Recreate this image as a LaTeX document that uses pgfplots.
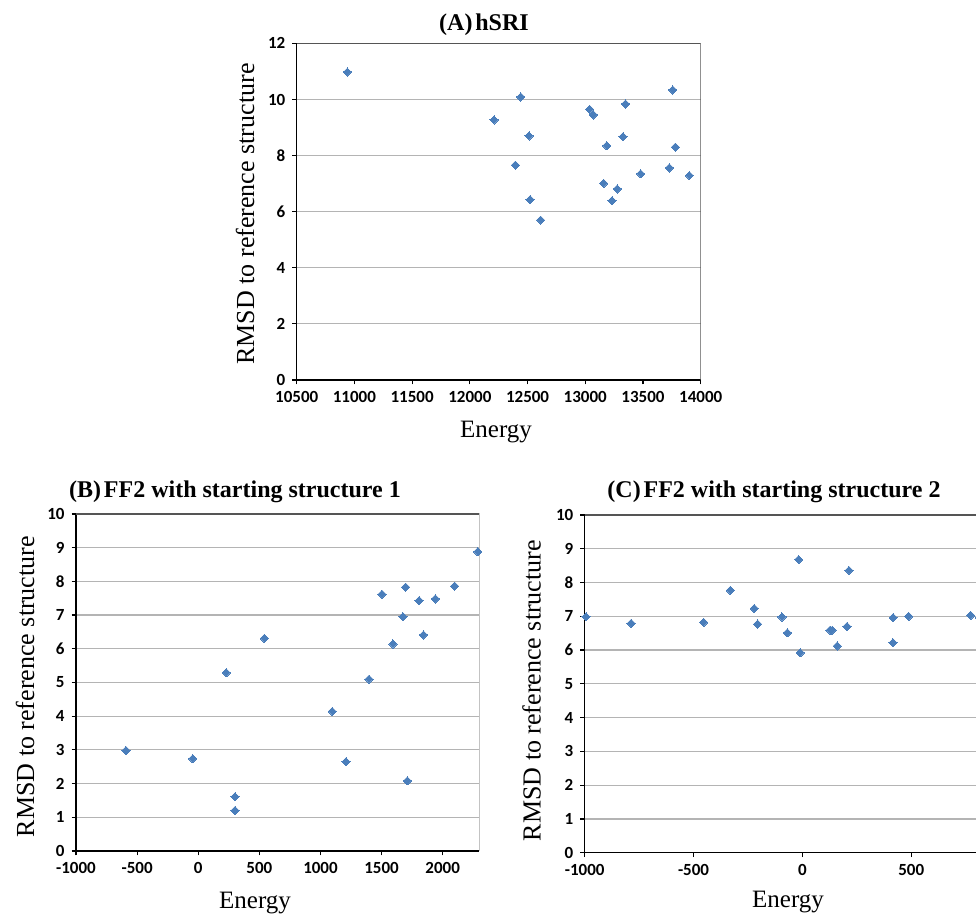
\documentclass[border=0pt]{standalone}
\usepackage{fontspec}
\setmainfont{Liberation Serif}
\newfontfamily\carlito{Carlito}
\usepackage{pgfplots}
\pgfplotsset{compat=1.18}
\definecolor{mk}{HTML}{4A7EBB}
\definecolor{gridc}{HTML}{B4B4B4}
\definecolor{boxc}{HTML}{555555}
\pgfplotsset{
 myax/.style={
  scale only axis,
  anchor=south west,
  axis lines*=left,
  axis line style={-, black, line width=0.7pt},
  every outer x axis line/.append style={-},
  every outer y axis line/.append style={-},
  ymajorgrids,
  grid style={gridc, line width=0.6pt},
  tick align=outside,
  major tick length=2.2pt,
  tick style={black, line width=0.6pt},
  ticklabel style={font=\carlito\bfseries\fontsize{8.5}{10}\selectfont},
  scaled x ticks=false,
  scaled y ticks=false,
  /pgf/number format/assume math mode=true,
  /pgf/number format/set thousands separator={},
 },
 mks/.style={only marks, mark=square*, mark size=1.45pt,
   mark options={rotate=45, fill=mk, draw=mk, line width=0pt}},
}
\begin{document}
\begin{tikzpicture}
\useasboundingbox (0,0) rectangle (488pt,457.5pt);
\clip (0,0) rectangle (488pt,457.5pt);
% ---------- (A)
\begin{axis}[myax, at={(148.35pt,267.5pt)}, width=202pt, height=168.3pt,
  xmin=10500, xmax=14000, ymin=0, ymax=12,
  xtick={10500,11000,11500,12000,12500,13000,13500,14000}, ytick={0,2,...,12}]
\addplot[mks] table {
x y
10939 10.98
12210 9.27
12441 10.09
12513 8.70
12394 7.66
12522 6.43
12614 5.70
13038 9.65
13070 9.45
13348 9.84
13186 8.35
13327 8.67
13160 7.01
13278 6.81
13232 6.39
13480 7.35
13758 10.34
13781 8.30
13729 7.56
13902 7.29
};
\draw[boxc, line width=0.7pt] (rel axis cs:0,1) -- (rel axis cs:1,1) -- (rel axis cs:1,0);
\end{axis}
% ---------- (B)
\begin{axis}[myax, at={(38pt,32pt)}, width=201.7pt, height=168.5pt,
  xmin=-1000, xmax=2300, ymin=0, ymax=10,
  xtick={-1000,-500,...,2000}, ytick={0,1,...,10}]
\addplot[mks] table {
x y
-591 2.98
-45 2.74
230 5.29
301 1.61
301 1.20
541 6.31
1097 4.14
1209 2.65
1397 5.10
1503 7.62
1593 6.14
1675 6.95
1697 7.83
1711 2.08
1806 7.43
1842 6.41
1940 7.48
2098 7.86
2286 8.88
};
\draw[boxc, line width=0.7pt] (rel axis cs:0,1) -- (rel axis cs:1,1) -- (rel axis cs:1,0);
\end{axis}
% ---------- (C)
\begin{axis}[myax, at={(292.35pt,31.15pt)}, width=217.7pt, height=168.85pt,
  xmin=-1000, xmax=1000, ymin=0, ymax=10,
  xtick={-1000,-500,0,500}, ytick={0,1,...,10}]
\addplot[mks] table {
x y
-994 6.99
-787 6.79
-454 6.82
-331 7.77
-221 7.23
-206 6.77
-94 6.98
-69 6.51
-17 8.68
-10 5.92
127 6.59
137 6.59
160 6.12
205 6.70
214 8.36
417 6.96
416 6.22
488 7.00
773 7.03
812 6.95
};
\draw[boxc, line width=0.7pt] (rel axis cs:0,1) -- (rel axis cs:1,1);
\end{axis}
% ---------- titles and labels
\node[font=\bfseries\fontsize{12}{14}\selectfont] at (242pt,445pt) {(A)\hspace{0.12em}hSRI};
\node[rotate=90, font=\fontsize{13}{15}\selectfont] at (122.5pt,350.5pt) {RMSD to reference structure};
\node[font=\fontsize{12.5}{15}\selectfont] at (248pt,241.5pt) {Energy};
\node[font=\bfseries\fontsize{12}{14}\selectfont] at (117.5pt,211.5pt) {(B)\hspace{0.12em}FF2 with starting structure 1};
\node[rotate=90, font=\fontsize{13}{15}\selectfont] at (12.5pt,114.2pt) {RMSD to reference structure};
\node[font=\fontsize{12.5}{15}\selectfont] at (127.5pt,6pt) {Energy};
\node[font=\bfseries\fontsize{12}{14}\selectfont] at (387pt,211.5pt) {(C)\hspace{0.12em}FF2 with starting structure 2};
\node[rotate=90, font=\fontsize{13}{15}\selectfont] at (265.8pt,112.2pt) {RMSD to reference structure};
\node[font=\fontsize{12.5}{15}\selectfont] at (394pt,6.6pt) {Energy};
\end{tikzpicture}
\end{document}
